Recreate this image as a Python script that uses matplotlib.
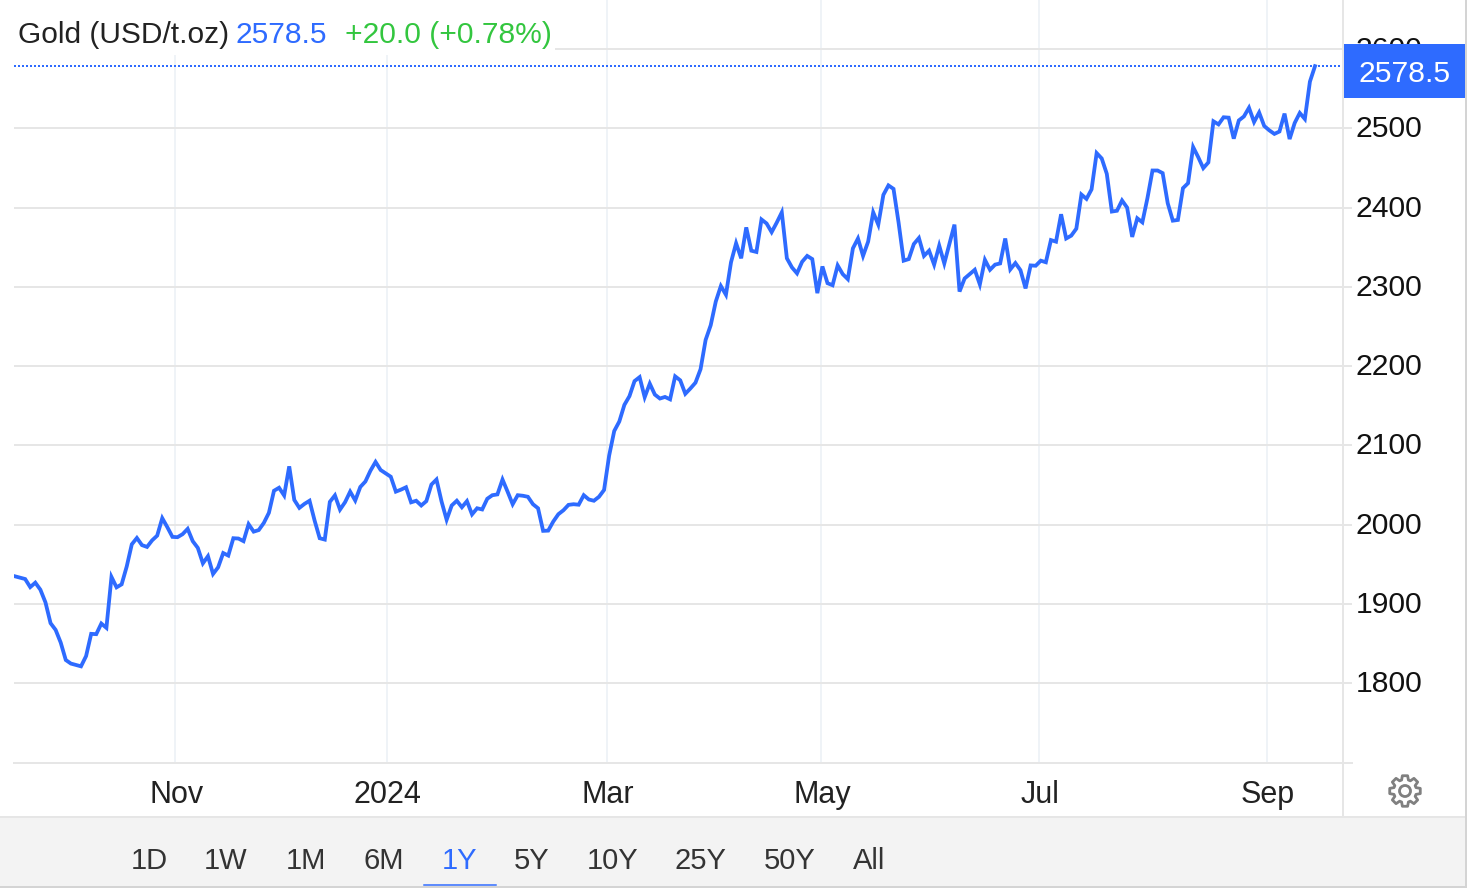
import numpy as np
import matplotlib
matplotlib.use("Agg")
import matplotlib.pyplot as plt
from matplotlib.patches import Rectangle, PathPatch, Circle
from matplotlib.path import Path
from matplotlib.transforms import ScaledTranslation

plt.rcParams['font.family'] = ['Liberation Sans', 'DejaVu Sans']

# daily gold close
prices = [
    1934.6, 1932.9, 1931.2, 1921, 1926.6, 1917.7, 1901.7, 1875.5, 1867, 1851,
    1829, 1824.5, 1822.8, 1821, 1834, 1862, 1861.6, 1875, 1869.6, 1933.8,
    1920.7, 1924.5, 1947, 1975, 1983, 1974, 1971.7, 1980, 1986, 2008,
    1996.6, 1984.4, 1984, 1987.8, 1994.5, 1979, 1970.5, 1951, 1960, 1937.6,
    1946, 1964, 1960.8, 1982.7, 1982.3, 1979, 2000.4, 1991, 1993, 2002,
    2014.8, 2042.6, 2046.4, 2036.7, 2073.4, 2031, 2021, 2026, 2030, 2005,
    1982.7, 1981,
    2028.6, 2036.8, 2018.8, 2028.2, 2041.5, 2030.3, 2047.4, 2054.3, 2068, 2079,
    2068.8, 2064.5, 2060.3, 2041.5, 2044, 2047, 2028, 2030, 2024, 2029.5,
    2050.4, 2056.8, 2029, 2006, 2024, 2030, 2021.8, 2029.5, 2012.8, 2020.5,
    2019, 2032.5, 2037, 2038, 2056.8, 2041.5, 2025.6, 2037, 2036.3, 2035,
    2025.6, 2020.5, 1992, 1992.3, 2003.8, 2013, 2018, 2024.8, 2025.6, 2025,
    2037, 2031.6, 2030, 2035, 2043.6, 2087, 2118, 2130, 2151, 2162,
    2181, 2186, 2160.7, 2177.8, 2164, 2159,
    2161, 2158, 2187, 2182, 2165, 2171.7, 2179, 2196, 2233, 2251.5,
    2281.4, 2301, 2290, 2331, 2355, 2336, 2375, 2345.6, 2344, 2385,
    2380, 2369, 2381, 2394, 2336, 2324.5, 2317, 2331.6, 2339, 2335,
    2292, 2325.7, 2304.6, 2302, 2327, 2316, 2309.7, 2348.5, 2361, 2339,
    2357, 2394, 2378.5, 2416, 2428, 2423.6, 2381, 2333, 2335, 2354,
    2361.6, 2339, 2345.6, 2328, 2352, 2329.5, 2354, 2378.5, 2294, 2310.5,
    2316, 2321.5, 2303, 2334, 2321.5,
    2328, 2329.5, 2361, 2322, 2330, 2321, 2298, 2327, 2326.6, 2333,
    2331, 2359, 2357, 2391.6, 2361, 2364.6, 2373.4, 2416.5, 2411, 2423,
    2468.8, 2462, 2442.6, 2395, 2396, 2409, 2400, 2363, 2386.5, 2381.4,
    2411.8, 2446.8, 2446.8, 2443.5, 2405.5, 2383.5, 2384.4, 2424.5, 2430.8, 2476.4,
    2463.7, 2449.8, 2457, 2508.9, 2505, 2514, 2513.5, 2487, 2510, 2515,
    2526, 2508, 2520, 2503, 2497.5, 2493, 2496, 2518.6, 2486.5, 2506.8,
    2519.4, 2511.8, 2559, 2578.5,
]
month_days = [31.5, 73.2, 116.5, 158.7, 201.6, 246.5]
month_labels = ['Nov', '2024', 'Mar', 'May', 'Jul', 'Sep']
price_ticks = [1800, 1900, 2000, 2100, 2200, 2300, 2400, 2500, 2600]
ranges = ['1D', '1W', '1M', '6M', '1Y', '5Y', '10Y', '25Y', '50Y', 'All']
range_x = [149, 226, 306, 384, 460, 532, 613, 701, 790, 869]

W, H = 1471, 889
BLUE = '#2e6bff'
GREEN = '#33c63f'
GRID = '#e6e6e6'
VGRID = '#eff3f7'
px = 0.72  # one pixel in points at dpi 100

fig = plt.figure(figsize=(W / 100, H / 100), dpi=100)

ax = fig.add_axes([14 / W, 1 - 763 / H, (1343 - 14) / W, 763 / H], zorder=1)
scale = 1300 / (len(prices) - 1)
ax.set_xlim(-1 / scale, 1328 / scale)
ax.set_ylim(1699, 2662)
ax.plot(range(len(prices)), prices, color=BLUE, lw=3.8 * px, solid_joinstyle='miter', zorder=4)
ax.axhline(prices[-1], color=BLUE, lw=2 * px, ls=(0, (1, 1)), zorder=3)

ax.set_xticks(month_days, month_labels)
ax.set_yticks(price_ticks)
ax.yaxis.tick_right()
ax.grid(axis='y', color=GRID, lw=2 * px)
ax.grid(axis='x', color=VGRID, lw=2 * px)
ax.set_axisbelow(True)
ax.tick_params(axis='x', length=0, pad=12.5, labelsize=22, labelcolor='#222222')
ax.tick_params(axis='y', length=9 * px, width=2 * px, color=GRID, pad=2.5, labelsize=21.7, labelcolor='#111111')
for s in ax.spines.values():
    s.set_visible(False)
# the labels sit a little above their gridlines in the original, month labels a bit right
up = ScaledTranslation(0, 2 / 100, fig.dpi_scale_trans)
for lab in ax.get_yticklabels():
    lab.set_transform(lab.get_transform() + up)
right = ScaledTranslation(1.2 / 100, 0, fig.dpi_scale_trans)
for lab in ax.get_xticklabels():
    lab.set_transform(lab.get_transform() + right)

# page chrome, in pixel coordinates on top of the chart
ui = fig.add_axes([0, 0, 1, 1], zorder=2)
ui.set_xlim(0, W)
ui.set_ylim(H, 0)
ui.axis('off')

ui.add_patch(Rectangle((14, 0), 541, 55, fc='white', ec='none'))
ui.text(18, 32, 'Gold (USD/t.oz)', fontsize=21.5, color='#222222', va='center_baseline')
ui.text(236, 32, '2578.5', fontsize=21.6, color=BLUE, va='center_baseline')
ui.text(345, 32, '+20.0 (+0.78%)', fontsize=21.6, color=GREEN, va='center_baseline')

ui.plot([14, 1352], [763, 763], color=GRID, lw=2 * px)
ui.plot([1343, 1343], [0, 817], color=GRID, lw=2 * px)

ui.add_patch(Rectangle((1344, 44), 122, 54, fc=BLUE, ec='none'))
ui.text(1405, 73.5, '2578.5', fontsize=21.7, color='white', ha='center', va='center')

ui.add_patch(Rectangle((0, 817), 1466, 69, fc='#f3f3f3', ec='none'))
ui.plot([0, 1466], [817, 817], color=GRID, lw=2 * px)
ui.plot([0, 1466], [886.5, 886.5], color='#d4d4d4', lw=2 * px)
ui.plot([1466.5, 1466.5], [0, 886], color='#d4d4d4', lw=2 * px)

for name, x in zip(ranges, range_x):
    ui.text(x, 861, name, fontsize=21, ha='center', va='center',
            color=BLUE if name == '1Y' else '#333333')
ui.plot([424, 496], [885, 885], color=BLUE, lw=1.5 * px)

# settings gear
n = 8
angs = []
rads = []
for i in range(n):
    a = 2 * np.pi * i / n - np.pi / 2
    angs += [a - 0.30, a - 0.17, a + 0.17, a + 0.30]
    rads += [11.5, 15.5, 15.5, 11.5]
gx = 1405 + np.array(rads) * np.cos(angs)
gy = 791 + np.array(rads) * np.sin(angs)
verts = list(zip(gx, gy)) + [(gx[0], gy[0])]
codes = [Path.MOVETO] + [Path.LINETO] * (len(verts) - 2) + [Path.CLOSEPOLY]
ui.add_patch(PathPatch(Path(verts, codes), fc='none', ec='#808080', lw=2.8 * px, joinstyle='round'))
ui.add_patch(Circle((1405, 791), 5.5, fc='none', ec='#808080', lw=2.8 * px))

fig.savefig('out.png', dpi=100)
